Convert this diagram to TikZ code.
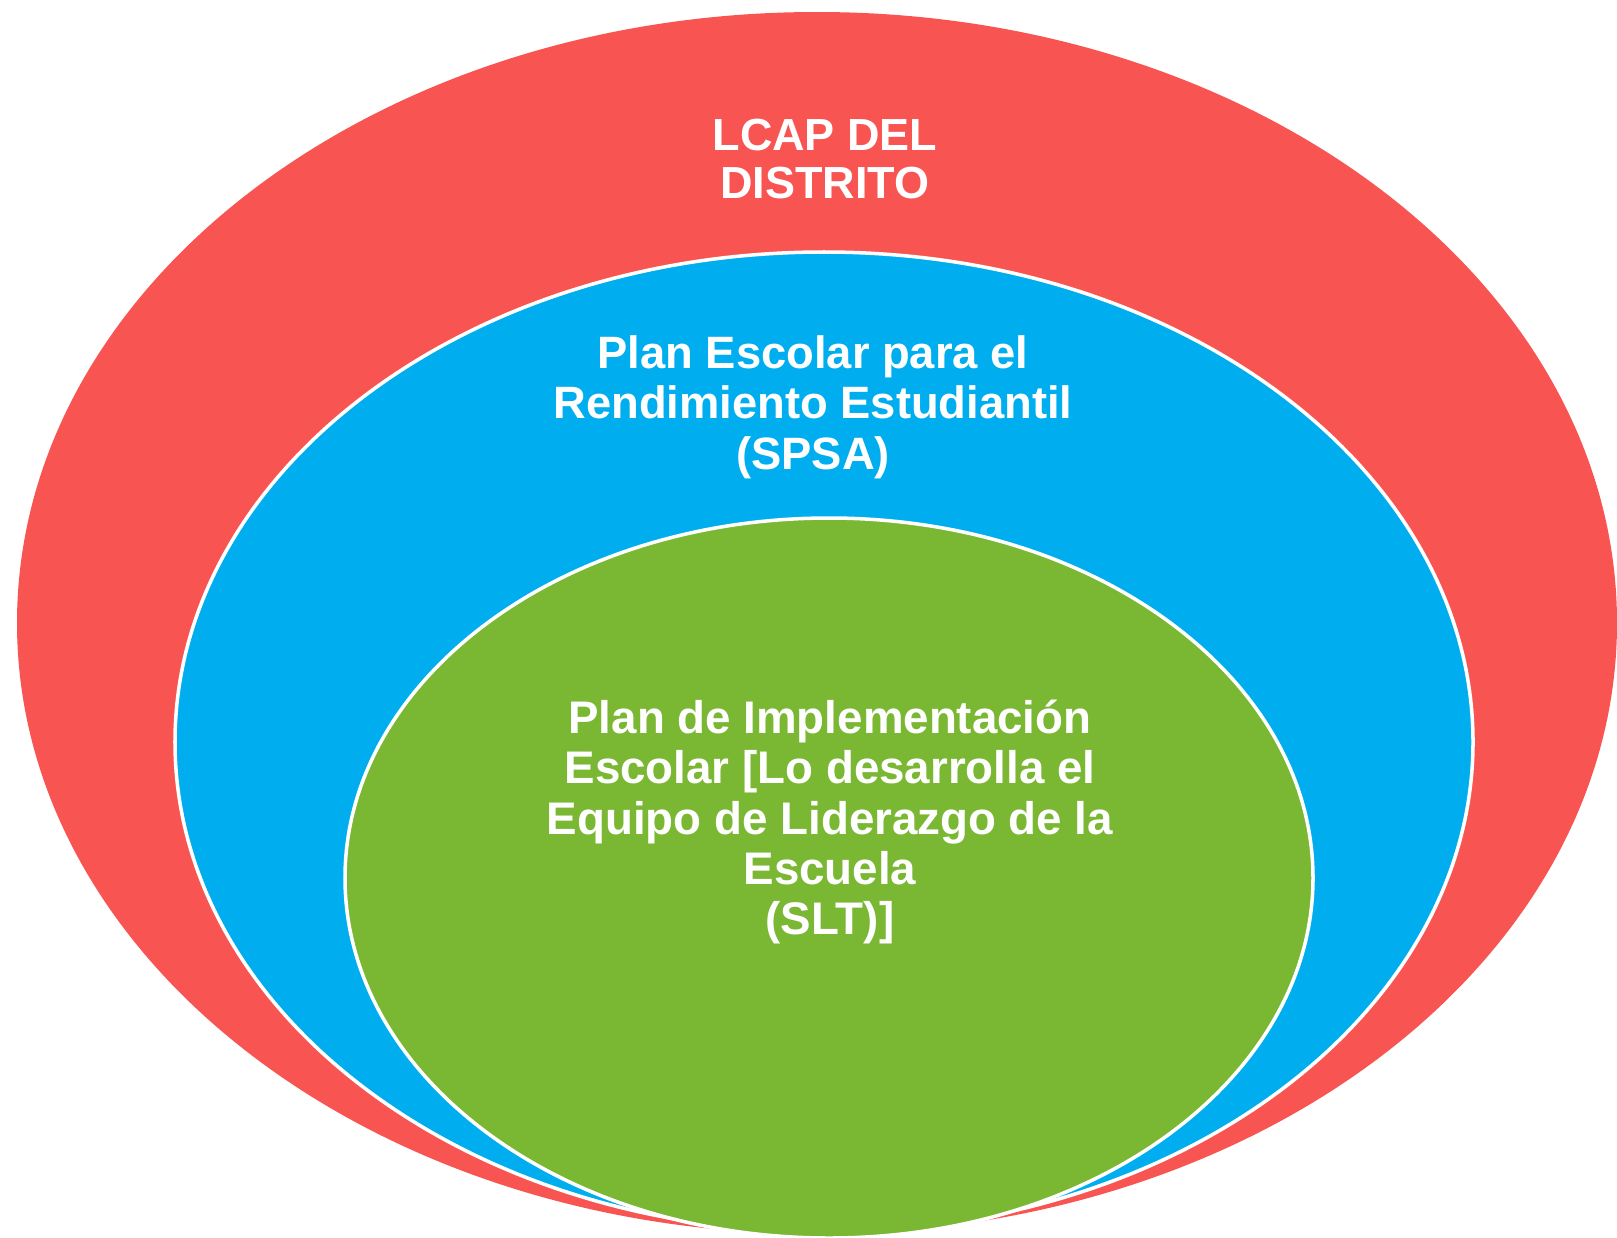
\documentclass[tikz,border=0pt]{standalone}
\usepackage[svgnames]{xcolor}
\usepackage{fontspec}
\setmainfont{Liberation Sans}
\usepackage{tikz}
\usetikzlibrary{positioning}
\newcommand{\definitions}{%
  % color of district plan
  \definecolor{colD}{HTML}{F75452}
  % color of school plan
  \definecolor{colS}{HTML}{00AEEF}
  % color of implementation plan
  \definecolor{colI}{HTML}{7AB733}

  % center coordinate of district plan
  \coordinate (oD) at (8.17, 6.14);
  % center coordinate of school plan
  \coordinate (oS) at (8.24, 4.95);
  % center coordinate of implementation plan
  \coordinate (oI) at (8.29, 3.59);

  % district plan
  \def\setD{(oD) ellipse (8.00 and 6.11)}
  % school plan
  \def\setS{(oS) ellipse (6.49 and 4.90)}
  % implementation plan
  \def\setI{(oI) ellipse (4.84 and 3.60)}
}

\begin{document}
\begin{tikzpicture}

  % define colors and sets
  \definitions
  \useasboundingbox (0,0) rectangle (16.17,12.37);

  % fill sets in reverse order of size
  \fill[fill=colD]\setD;
  \filldraw[fill=colS,draw=white,line width=1pt]\setS;
  \filldraw[fill=colI,draw=white,line width=1pt]\setI;

  % add name label for each set
  \node[font=\fontsize{12.8}{13.7}\selectfont\bfseries,text=white,align=center] (D) at (8.25, 10.78) {LCAP DEL\\DISTRITO};
  \node[font=\fontsize{12.9}{14.4}\selectfont\bfseries,text=white,align=center] (S) at (8.13, 8.30) {Plan Escolar para el\\Rendimiento Estudiantil\\(SPSA)};
  \node[font=\fontsize{13.0}{14.3}\selectfont\bfseries,text=white,align=center] (I) at (8.30, 4.15) {Plan de Implementación\\Escolar [Lo desarrolla el\\Equipo de Liderazgo de la\\Escuela\\(SLT)]};

\end{tikzpicture}
\end{document}
